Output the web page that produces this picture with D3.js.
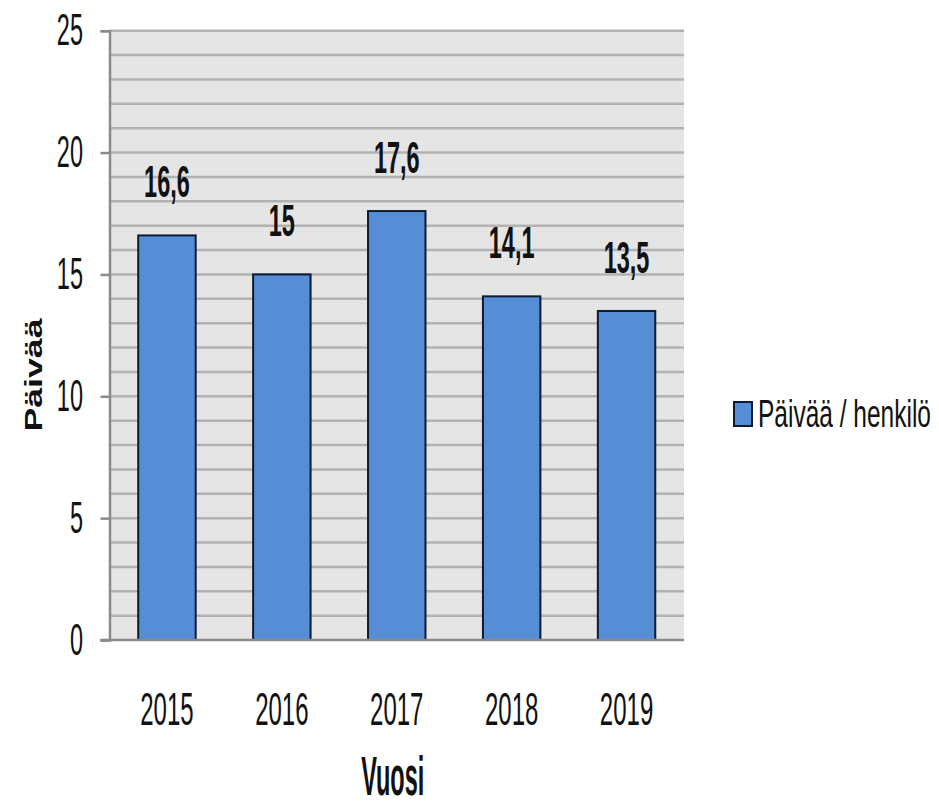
<!DOCTYPE html>
<html>
<head>
<meta charset="utf-8">
<script src="https://cdn.jsdelivr.net/npm/d3@7/dist/d3.min.js"></script>
<style>
  html, body { margin: 0; padding: 0; background: #ffffff; }
  svg { display: block; }
  text { font-family: "Liberation Sans", Arial, sans-serif; fill: #111; }
</style>
</head>
<body>
<svg id="chart" width="939" height="808"></svg>
<script>
// ---- data ----
const years = ["2015", "2016", "2017", "2018", "2019"];
const values = [16.6, 15, 17.6, 14.1, 13.5];
const valueLabels = ["16,6", "15", "17,6", "14,1", "13,5"];
const yTicks = [0, 5, 10, 15, 20, 25];
const gridValues = d3.range(0, 26, 1);
const seriesName = "Päivää / henkilö";
const xTitle = "Vuosi";
const yTitle = "Päivää";

// ---- layout ----
const plot = { left: 109.5, right: 684, top: 30.7, bottom: 640 };
const svg = d3.select("#chart");

const x = d3.scaleBand().domain(years).range([plot.left, plot.right])
  .paddingInner(0.5).paddingOuter(0.25);
const y = d3.scaleLinear().domain([0, 25]).range([plot.bottom, plot.top]);

const BLUE = "#558ed5", EDGE = "#0e1a30";

// stretched text helper
function stext(parent, opt) {
  const t = parent.append("text")
    .attr("x", 0).attr("y", 0)
    .attr("text-anchor", opt.anchor || "middle")
    .attr("font-size", opt.fs)
    .attr("font-weight", opt.weight || "normal")
    .text(opt.text);
  let sx = opt.sx || 1;
  if (opt.w) {
    const len = t.node().getComputedTextLength();
    sx = opt.w / len;
  }
  const sy = opt.h ? opt.h / (0.716 * opt.fs) : (opt.sy || 1);
  let tr = `translate(${opt.x},${opt.y})`;
  if (opt.rotate) tr += ` rotate(${opt.rotate})`;
  tr += ` scale(${sx},${sy})`;
  if (opt.center) t.attr("y", 0.358 * opt.fs);
  t.attr("transform", tr);
  return t;
}

// plot background
svg.append("rect")
  .attr("x", plot.left).attr("y", plot.top)
  .attr("width", plot.right - plot.left).attr("height", plot.bottom - plot.top)
  .attr("fill", "#e5e5e5");

// gridlines (every unit)
svg.append("g").selectAll("line").data(gridValues.filter(v => v > 0)).join("line")
  .attr("x1", plot.left).attr("x2", plot.right)
  .attr("y1", d => y(d)).attr("y2", d => y(d))
  .attr("stroke", "#b2b2b2").attr("stroke-width", 2.5);

// bars
svg.append("g").selectAll("rect").data(years).join("rect")
  .attr("x", d => x(d))
  .attr("width", x.bandwidth())
  .attr("y", (d, i) => y(values[i]))
  .attr("height", (d, i) => y(0) - y(values[i]))
  .attr("fill", BLUE)
  .attr("stroke", EDGE).attr("stroke-width", 2);

// y axis via d3 axis
const yAxis = svg.append("g")
  .attr("transform", `translate(${plot.left},0)`)
  .call(d3.axisLeft(y).tickValues(yTicks).tickSize(9).tickFormat(""));
yAxis.select(".domain").attr("stroke", "#8a8a8a").attr("stroke-width", 2.5);
yAxis.selectAll(".tick line").attr("stroke", "#8a8a8a").attr("stroke-width", 2.5);

// x axis baseline
const xAxis = svg.append("g")
  .attr("transform", `translate(0,${plot.bottom})`)
  .call(d3.axisBottom(x).tickSize(0).tickFormat(""));
xAxis.select(".domain").attr("stroke", "#8a8a8a").attr("stroke-width", 2.5)
  .attr("d", `M${plot.left - 9},0H${plot.right}`);

// y tick labels
yTicks.forEach(v => {
  stext(svg, { x: 83, y: y(v) - 1, text: String(v), anchor: "end", fs: 23.5, h: 31.5, center: true });
});

// x tick labels
years.forEach(d => {
  stext(svg, { x: x(d) + x.bandwidth() / 2, y: 708, text: d, fs: 24, h: 33, center: true });
});

// data labels
years.forEach((d, i) => {
  stext(svg, { x: x(d) + x.bandwidth() / 2, y: y(values[i]) - 38, text: valueLabels[i],
    fs: 23.5, weight: "bold", h: 32 });
});

// axis titles
stext(svg, { x: (plot.left + plot.right) / 2 - 4, y: 795, text: xTitle, fs: 23.5, weight: "bold", h: 40 });
stext(svg, { x: 33.5, y: 375, text: yTitle, fs: 23.7, weight: "bold", w: 113, rotate: -90, center: true });

// legend
const lg = svg.append("g");
lg.append("rect").attr("x", 734).attr("y", 402).attr("width", 18).attr("height", 24)
  .attr("fill", BLUE).attr("stroke", EDGE).attr("stroke-width", 2);
stext(lg, { x: 758, y: 427, text: seriesName, anchor: "start", fs: 24.5, w: 173, h: 28 });
</script>
</body>
</html>
